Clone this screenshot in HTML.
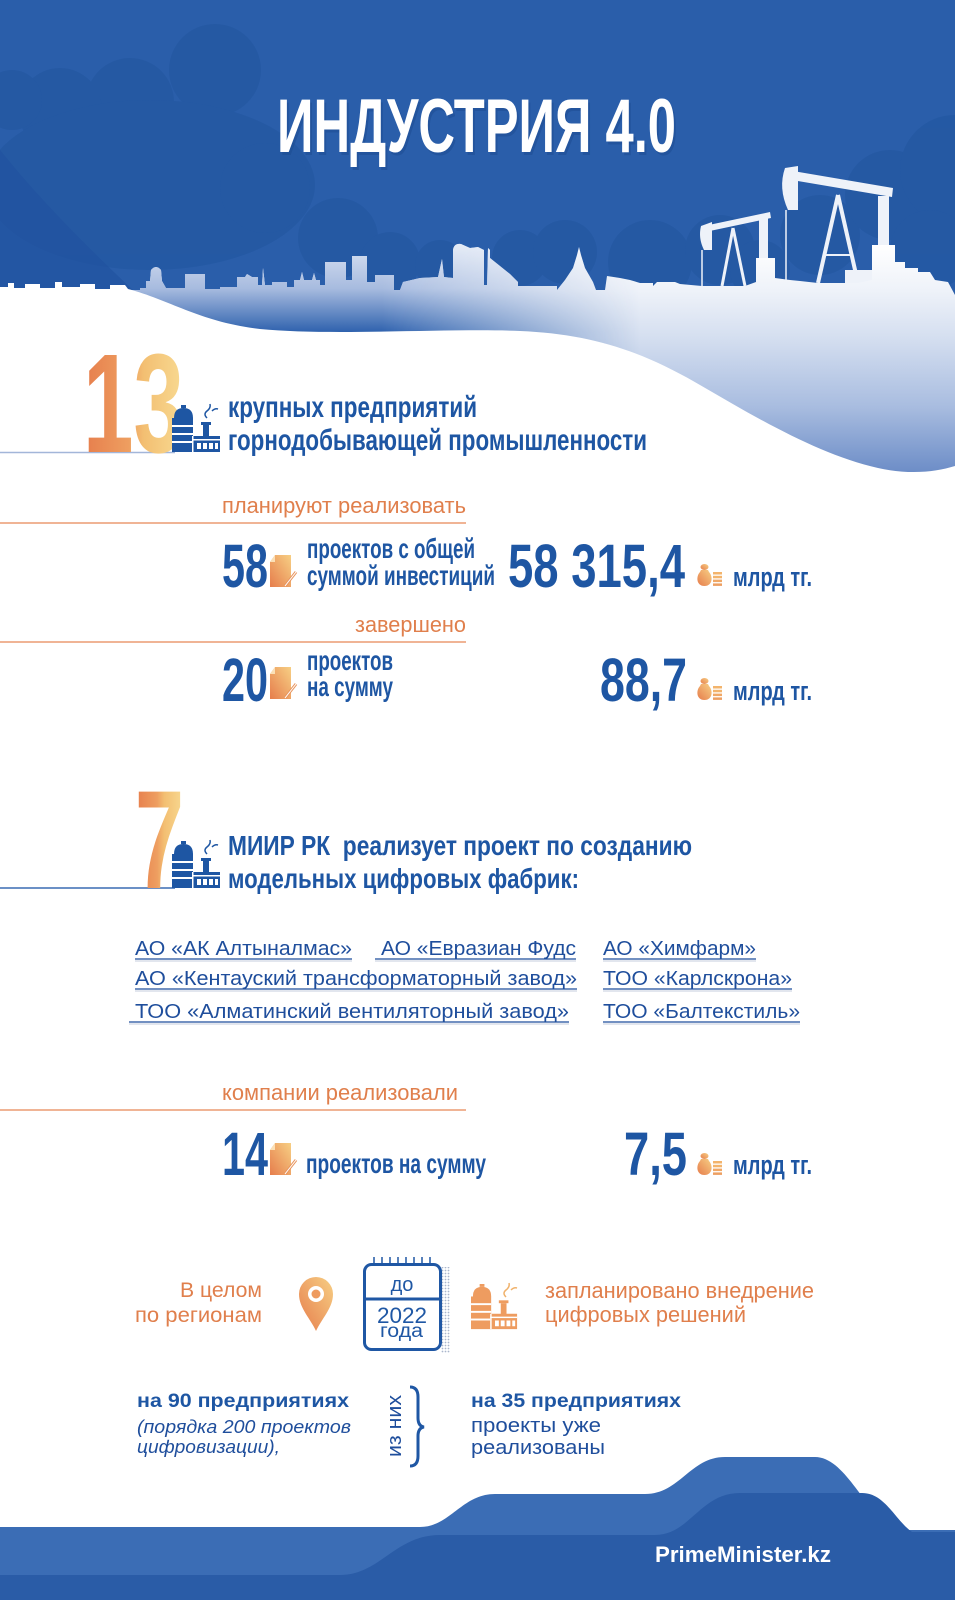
<!DOCTYPE html>
<html><head><meta charset="utf-8">
<style>
html,body{margin:0;padding:0;background:#fff;}
svg{display:block;}
text{font-family:"Liberation Sans","DejaVu Sans",sans-serif;}
.bl{fill:#1e56a3;font-weight:bold;}
.or{fill:#e07f4c;}
.co{fill:#1f4e9c;font-size:20px;}
</style></head>
<body>
<svg width="955" height="1600" viewBox="0 0 955 1600" xmlns="http://www.w3.org/2000/svg">
<defs>
  <linearGradient id="og" x1="0" y1="0" x2="1" y2="0">
    <stop offset="0" stop-color="#e67d4c"/><stop offset="0.45" stop-color="#ee9e60"/>
    <stop offset="0.6" stop-color="#f3bf72"/><stop offset="1" stop-color="#f8da92"/>
  </linearGradient>
  <linearGradient id="og2" x1="0" y1="1" x2="1" y2="0">
    <stop offset="0" stop-color="#e67d4c"/><stop offset="1" stop-color="#f7cf84"/>
  </linearGradient>
  <linearGradient id="g1" gradientUnits="userSpaceOnUse" x1="0" y1="245" x2="0" y2="475">
    <stop offset="0" stop-color="#ffffff"/><stop offset="0.2" stop-color="#eef2f9"/>
    <stop offset="0.4" stop-color="#d5dff0"/><stop offset="0.7" stop-color="#a9bde0"/>
    <stop offset="1" stop-color="#6a8bc6"/>
  </linearGradient>
  <linearGradient id="g2" gradientUnits="userSpaceOnUse" x1="0" y1="245" x2="0" y2="332">
    <stop offset="0" stop-color="#d9e2f2"/><stop offset="0.5" stop-color="#a7bbdf"/>
    <stop offset="1" stop-color="#2f62ae"/>
  </linearGradient>
  <linearGradient id="fadeg" gradientUnits="userSpaceOnUse" x1="0" y1="0" x2="955" y2="0">
    <stop offset="0" stop-color="#fff"/><stop offset="0.4" stop-color="#fff"/>
    <stop offset="0.67" stop-color="#000"/><stop offset="1" stop-color="#000"/>
  </linearGradient>
  <mask id="fade"><rect x="0" y="0" width="955" height="500" fill="url(#fadeg)"/></mask>
  <pattern id="dots" width="3" height="3" patternUnits="userSpaceOnUse">
    <circle cx="1.5" cy="1.5" r="0.9" fill="#aab6cc"/>
  </pattern>
  <path id="snow" d="M0,292 L0,287 L8,287 L8,283 L14,283 L14,288 L25,288 L25,284 L40,284 L40,288 L55,288 L55,282 L62,282 L62,287 L80,287 L80,284 L95,284 L95,289 L110,289 L110,285 L125,285 L125,290 L140,290 L140,288 L146,288 L146,281 L150,281 L151,270 Q156,264 161,270 L162,281 L166,288 L185,288 L185,274 L205,274 L205,289 L220,289 L220,287 L237,287 L237,277 L245,277 L247,274 L252,277 L258,277 L258,285 L262,285 L263,268 L265,285 L272,285 L272,282 L287,282 L287,287 L294,287 L294,280 L300,280 L302,272 L304,280 L312,280 L314,273 L316,280 L320,280 L320,285 L325,285 L325,262 L346,262 L346,280 L352,280 L352,256 L367,256 L367,282 L375,282 L375,275 L394,275 L394,290 L400,290 L403,282 L420,278 L438,277 L442,259 L444,277 L453,278 L453,250 Q454,243 461,244 L470,248 L478,247 L484,250 L484,285 L487,285 L488,248 L490,250 L490,258 L500,266 L510,274 L518,282 L518,286 L557,286 L557,290 L565,280 L573,268 L577,255 L579,247 L581,255 L585,268 L593,282 L596,290 L605,290 L607,276 L620,278 L630,280 L640,283 L653,283 L653,286 L657,282 L675,282 L680,284 L702,286 L745,286 L756,282 L756,258 L775,258 L775,278 L790,280 L800,281 L818,283 L858,283 L872,280 L872,245 L895,245 L895,262 L905,262 L905,268 L918,268 L918,272 L930,272 L935,280 L948,282 L955,295 L955,480 L0,480 Z"/>
  <g id="doc">
    <path d="M7,0 L23,0 L23,32 L2,32 L2,7 Z" fill="url(#og2)"/>
    <path d="M2,7 L7,0 L7,7 Z" fill="#fbe0b6"/>
    <line x1="17" y1="31" x2="28" y2="17" stroke="#e8955e" stroke-width="3"/>
    <line x1="17" y1="31" x2="28" y2="17" stroke="#fff" stroke-width="1"/>
  </g>
  <g id="bag">
    <ellipse cx="7.5" cy="4" rx="4" ry="3" fill="url(#og2)"/>
    <path d="M4,7 L11,7 L12,9 C16,13 16,23 7.5,23 C-1,23 -1,13 3,9 Z" fill="url(#og2)"/>
    <rect x="16" y="9" width="9" height="2.5" fill="#f3b46c"/>
    <rect x="16" y="12.8" width="9" height="2.5" fill="#f3b46c"/>
    <rect x="16" y="16.6" width="9" height="2.5" fill="#f0a866"/>
    <rect x="16" y="20.4" width="9" height="2.5" fill="#ed9f62"/>
  </g>
  <g id="fac">
    <rect x="9" y="0" width="5" height="3"/>
    <path d="M2,13 Q2,3 11.5,3 Q21,3 21,13 Z"/>
    <rect x="0" y="13" width="21" height="34"/>
    <rect x="0" y="20" width="21" height="2" fill="#fff"/>
    <rect x="0" y="28" width="21" height="2" fill="#fff"/>
    <rect x="0" y="36" width="21" height="2" fill="#fff"/>
    <rect x="31" y="20" width="6" height="12"/>
    <rect x="29" y="17" width="10" height="3"/>
    <rect x="20" y="31" width="28" height="16"/>
    <rect x="20" y="31" width="1.5" height="16" fill="#fff"/>
    <rect x="20" y="34" width="28" height="1.5" fill="#fff"/>
    <rect x="25" y="38" width="4" height="6" fill="#fff"/>
    <rect x="31" y="38" width="4" height="6" fill="#fff"/>
    <rect x="37" y="38" width="4" height="6" fill="#fff"/>
    <rect x="43" y="38" width="3" height="6" fill="#fff"/>
  </g>
</defs>

<!-- SKY -->
<rect x="0" y="0" width="955" height="480" fill="#2a5eaa"/>
<g fill="#2256a0" opacity="0.6">
  <circle cx="215" cy="70" r="46"/>
  <circle cx="130" cy="102" r="44"/>
  <circle cx="60" cy="110" r="42"/>
  <circle cx="12" cy="100" r="30"/>
  <ellipse cx="150" cy="185" rx="165" ry="85"/>
  <circle cx="265" cy="188" r="45"/>
  <circle cx="338" cy="238" r="40"/>
  <circle cx="390" cy="262" r="30"/>
  <circle cx="440" cy="265" r="25"/>
  <circle cx="520" cy="258" r="28"/>
  <circle cx="565" cy="252" r="32"/>
  <circle cx="650" cy="262" r="42"/>
  <circle cx="720" cy="250" r="35"/>
  <circle cx="820" cy="235" r="40"/>
  <circle cx="890" cy="195" r="45"/>
  <circle cx="955" cy="170" r="55"/>
  <circle cx="760" cy="270" r="30"/>
  <circle cx="930" cy="250" r="40"/>
</g>
<path d="M0,150 C40,200 90,250 135,292 L0,292 Z" fill="#2152a0" opacity="0.7"/>

<!-- oil pumps -->
<g fill="#eef2f9" stroke="#eef2f9">
  <polygon points="704,226 770,212 771,218 705,232" stroke="none"/>
  <path d="M712,222 L712,250 L704,250 Q698,238 701,226 Z" stroke="none"/>
  <line x1="702" y1="250" x2="702" y2="286" stroke-width="1.5"/>
  <line x1="722" y1="286" x2="733" y2="228" stroke-width="3"/>
  <line x1="745" y1="286" x2="733" y2="228" stroke-width="3"/>
  <rect x="759" y="216" width="9" height="42" stroke="none"/>
  <polygon points="787,170 893,188 892,197 786,179" stroke="none"/>
  <path d="M798,166 L798,210 L788,210 Q778,188 785,168 Z" stroke="none"/>
  <line x1="786" y1="210" x2="786" y2="283" stroke-width="1.5"/>
  <line x1="818" y1="283" x2="838" y2="195" stroke-width="4"/>
  <line x1="858" y1="283" x2="838" y2="195" stroke-width="4"/>
  <line x1="826" y1="255" x2="852" y2="255" stroke-width="2"/>
  <rect x="878" y="196" width="11" height="50" stroke="none"/>
  <rect x="845" y="270" width="28" height="13" stroke="none"/>
</g>

<!-- snow / skyline -->
<use href="#snow" fill="url(#g1)"/>
<use href="#snow" fill="url(#g2)" mask="url(#fade)"/>
<path d="M0,292 L0,287 L8,287 L8,283 L14,283 L14,288 L25,288 L25,284 L40,284 L40,288 L55,288 L55,282 L62,282 L62,287 L80,287 L80,284 L95,284 L95,289 L110,289 L110,285 L125,285 L128,289 C170,300 200,322 260,329 C330,336 450,328 520,331 C590,334 640,350 700,385 C760,420 820,455 878,468 C910,475 935,472 955,466 L955,1600 L0,1600 Z" fill="#ffffff"/>

<!-- title -->
<text x="279" y="155" font-size="76" font-weight="bold" fill="#1b4a8e" opacity="0.45" textLength="399" lengthAdjust="spacingAndGlyphs">ИНДУСТРИЯ 4.0</text>
<text x="277" y="152" font-size="76" font-weight="bold" fill="#ffffff" textLength="399" lengthAdjust="spacingAndGlyphs">ИНДУСТРИЯ 4.0</text>

<!-- 13 section -->
<line x1="0" y1="452.5" x2="175" y2="452.5" stroke="#a3b6d9" stroke-width="1.5"/>
<text x="83" y="452" font-size="141" font-weight="bold" fill="url(#og)" textLength="101" lengthAdjust="spacingAndGlyphs">13</text>
<use href="#fac" x="172" y="405" fill="#1e56a3"/>
<path d="M207,418 q-4,-4 0,-7 q4,-3 3,-7 M212,411 q3,-3 6,-2" stroke="#1e56a3" stroke-width="1.5" fill="none"/>
<text x="228" y="417" font-size="30" class="bl" textLength="249" lengthAdjust="spacingAndGlyphs">крупных предприятий</text>
<text x="228" y="450" font-size="30" class="bl" textLength="419" lengthAdjust="spacingAndGlyphs">горнодобывающей промышленности</text>

<!-- planned -->
<text x="222" y="513" font-size="22" class="or" textLength="244" lengthAdjust="spacingAndGlyphs">планируют реализовать</text>
<line x1="0" y1="523" x2="466" y2="523" stroke="#eb9c72" stroke-width="1.5"/>
<text x="222" y="587" font-size="61" class="bl" textLength="46" lengthAdjust="spacingAndGlyphs">58</text>
<use href="#doc" x="268" y="555"/>
<text x="307" y="558" font-size="28" class="bl" textLength="168" lengthAdjust="spacingAndGlyphs">проектов с общей</text>
<text x="307" y="585" font-size="28" class="bl" textLength="188" lengthAdjust="spacingAndGlyphs">суммой инвестиций</text>
<text x="508" y="587" font-size="61" class="bl" textLength="177" lengthAdjust="spacingAndGlyphs">58 315,4</text>
<use href="#bag" x="697" y="563"/>
<text x="733" y="586" font-size="27" class="bl" textLength="79" lengthAdjust="spacingAndGlyphs">млрд тг.</text>

<!-- completed -->
<text x="355" y="632" font-size="22" class="or" textLength="111" lengthAdjust="spacingAndGlyphs">завершено</text>
<line x1="0" y1="642" x2="466" y2="642" stroke="#eb9c72" stroke-width="1.5"/>
<text x="222" y="701" font-size="61" class="bl" textLength="46" lengthAdjust="spacingAndGlyphs">20</text>
<use href="#doc" x="268" y="667"/>
<text x="307" y="670" font-size="28" class="bl" textLength="86" lengthAdjust="spacingAndGlyphs">проектов</text>
<text x="307" y="696" font-size="28" class="bl" textLength="86" lengthAdjust="spacingAndGlyphs">на сумму</text>
<text x="600" y="701" font-size="61" class="bl" textLength="87" lengthAdjust="spacingAndGlyphs">88,7</text>
<use href="#bag" x="697" y="677"/>
<text x="733" y="700" font-size="27" class="bl" textLength="79" lengthAdjust="spacingAndGlyphs">млрд тг.</text>

<!-- 7 section -->
<line x1="0" y1="888" x2="175" y2="888" stroke="#3a6bb3" stroke-width="1.5"/>
<text x="135" y="888" font-size="140" font-weight="bold" fill="url(#og)" textLength="49" lengthAdjust="spacingAndGlyphs">7</text>
<use href="#fac" x="172" y="841" fill="#1e56a3"/>
<path d="M207,854 q-4,-4 0,-7 q4,-3 3,-7 M212,847 q3,-3 6,-2" stroke="#1e56a3" stroke-width="1.5" fill="none"/>
<text x="228" y="855" font-size="28" class="bl" textLength="464" lengthAdjust="spacingAndGlyphs">МИИР РК&#160; реализует проект по созданию</text>
<text x="228" y="888" font-size="28" class="bl" textLength="351" lengthAdjust="spacingAndGlyphs">модельных цифровых фабрик:</text>

<!-- companies -->
<g stroke="#c5cedd" stroke-width="1">
  <line x1="135" y1="961" x2="352" y2="961"/><line x1="375" y1="961" x2="576" y2="961"/><line x1="603" y1="961" x2="756" y2="961"/>
  <line x1="135" y1="991" x2="577" y2="991"/><line x1="603" y1="991" x2="792" y2="991"/>
  <line x1="129" y1="1024" x2="569" y2="1024"/><line x1="603" y1="1024" x2="800" y2="1024"/>
</g>
<g stroke="#1f4e9c" stroke-width="1.2">
  <line x1="135" y1="959" x2="352" y2="959"/><line x1="375" y1="959" x2="576" y2="959"/><line x1="603" y1="959" x2="756" y2="959"/>
  <line x1="135" y1="989" x2="577" y2="989"/><line x1="603" y1="989" x2="792" y2="989"/>
  <line x1="129" y1="1022" x2="569" y2="1022"/><line x1="603" y1="1022" x2="800" y2="1022"/>
</g>
<text x="135" y="955" class="co" textLength="217" lengthAdjust="spacingAndGlyphs">АО «АК Алтыналмас»</text>
<text x="381" y="955" class="co" textLength="195" lengthAdjust="spacingAndGlyphs">АО «Евразиан Фудс</text>
<text x="603" y="955" class="co" textLength="153" lengthAdjust="spacingAndGlyphs">АО «Химфарм»</text>
<text x="135" y="985" class="co" textLength="442" lengthAdjust="spacingAndGlyphs">АО «Кентауский трансформаторный завод»</text>
<text x="603" y="985" class="co" textLength="189" lengthAdjust="spacingAndGlyphs">ТОО «Карлскрона»</text>
<text x="135" y="1018" class="co" textLength="434" lengthAdjust="spacingAndGlyphs">ТОО «Алматинский вентиляторный завод»</text>
<text x="603" y="1018" class="co" textLength="197" lengthAdjust="spacingAndGlyphs">ТОО «Балтекстиль»</text>

<!-- companies realized -->
<text x="222" y="1100" font-size="22" class="or" textLength="236" lengthAdjust="spacingAndGlyphs">компании реализовали</text>
<line x1="0" y1="1110" x2="466" y2="1110" stroke="#eb9c72" stroke-width="1.5"/>
<text x="222" y="1175" font-size="61" class="bl" textLength="46" lengthAdjust="spacingAndGlyphs">14</text>
<use href="#doc" x="268" y="1143"/>
<text x="306" y="1173" font-size="28" class="bl" textLength="180" lengthAdjust="spacingAndGlyphs">проектов на сумму</text>
<text x="624" y="1175" font-size="61" class="bl" textLength="63" lengthAdjust="spacingAndGlyphs">7,5</text>
<use href="#bag" x="697" y="1152"/>
<text x="733" y="1174" font-size="27" class="bl" textLength="79" lengthAdjust="spacingAndGlyphs">млрд тг.</text>

<!-- regions row -->
<text x="180" y="1297" font-size="21" class="or" textLength="82" lengthAdjust="spacingAndGlyphs">В целом</text>
<text x="135" y="1322" font-size="21" class="or" textLength="127" lengthAdjust="spacingAndGlyphs">по регионам</text>
<path d="M316,1331 C310,1318 299,1308 299,1294 A17,17 0 1 1 333,1294 C333,1308 322,1318 316,1331 Z" fill="url(#og2)"/>
<circle cx="316" cy="1294" r="8" fill="#fff"/>
<circle cx="316" cy="1294" r="4.5" fill="#ee9a5e"/>
<rect x="441" y="1267" width="9" height="86" fill="url(#dots)"/>
<rect x="364.5" y="1264.5" width="76" height="85" rx="7" fill="#fff" stroke="#1f57a4" stroke-width="3"/>
<line x1="364" y1="1299" x2="441" y2="1299" stroke="#1f57a4" stroke-width="3"/>
<g stroke="#1f57a4" stroke-width="1.5">
  <line x1="374" y1="1257" x2="374" y2="1265"/><line x1="382" y1="1257" x2="382" y2="1265"/>
  <line x1="390" y1="1257" x2="390" y2="1265"/><line x1="398" y1="1257" x2="398" y2="1265"/>
  <line x1="406" y1="1257" x2="406" y2="1265"/><line x1="414" y1="1257" x2="414" y2="1265"/>
  <line x1="422" y1="1257" x2="422" y2="1265"/><line x1="430" y1="1257" x2="430" y2="1265"/>
</g>
<text x="402" y="1291" font-size="20" fill="#1f57a4" text-anchor="middle">до</text>
<text x="377" y="1323" font-size="22" fill="#1f57a4" textLength="50" lengthAdjust="spacingAndGlyphs">2022</text>
<text x="380" y="1337" font-size="19" fill="#1f57a4" textLength="43" lengthAdjust="spacingAndGlyphs">года</text>
<use href="#fac" x="471" y="1284" fill="#ee9c60" transform="translate(471,1284) scale(0.96) translate(-471,-1284)"/>
<path d="M506,1297 q-4,-4 0,-7 q4,-3 3,-7 M511,1290 q3,-3 6,-2" stroke="#f0b26c" stroke-width="1.5" fill="none"/>
<text x="545" y="1298" font-size="22" class="or" textLength="269" lengthAdjust="spacingAndGlyphs">запланировано внедрение</text>
<text x="545" y="1322" font-size="22" class="or" textLength="201" lengthAdjust="spacingAndGlyphs">цифровых решений</text>

<!-- bottom stats -->
<text x="137" y="1407" font-size="19" class="bl" textLength="212" lengthAdjust="spacingAndGlyphs">на 90 предприятиях</text>
<text x="137" y="1433" font-size="18" fill="#1f4e9c" font-style="italic" textLength="214" lengthAdjust="spacingAndGlyphs">(порядка 200 проектов</text>
<text x="137" y="1453" font-size="18" fill="#1f4e9c" font-style="italic" textLength="143" lengthAdjust="spacingAndGlyphs">цифровизации),</text>
<text transform="translate(401,1426) rotate(-90)" font-size="20" fill="#1f4e9c" text-anchor="middle" textLength="62" lengthAdjust="spacingAndGlyphs">из них</text>
<path d="M410,1387 Q418,1387 418,1397 L418,1418 Q418,1426 424,1427 Q418,1428 418,1436 L418,1456 Q418,1466 410,1466" stroke="#1f57a4" stroke-width="3" fill="none"/>
<text x="471" y="1407" font-size="19" class="bl" textLength="210" lengthAdjust="spacingAndGlyphs">на 35 предприятиях</text>
<text x="471" y="1432" font-size="20" fill="#1f4e9c" textLength="130" lengthAdjust="spacingAndGlyphs">проекты уже</text>
<text x="471" y="1454" font-size="20" fill="#1f4e9c" textLength="134" lengthAdjust="spacingAndGlyphs">реализованы</text>

<!-- footer -->
<path d="M0,1527 L420,1527 C450,1527 462,1494 495,1494 L645,1494 C680,1494 690,1457 725,1457 L815,1457 C850,1457 870,1530 905,1530 L955,1530 L955,1600 L0,1600 Z" fill="#3b6db5"/>
<path d="M0,1575 L340,1575 C380,1575 395,1535 440,1535 L655,1535 C690,1535 700,1493 740,1493 L862,1493 C885,1493 895,1520 912,1532 L955,1532 L955,1600 L0,1600 Z" fill="#2a5ca7"/>
<text x="655" y="1562" font-size="22" font-weight="bold" fill="#ffffff" textLength="176" lengthAdjust="spacingAndGlyphs">PrimeMinister.kz</text>
</svg>
</body></html>
